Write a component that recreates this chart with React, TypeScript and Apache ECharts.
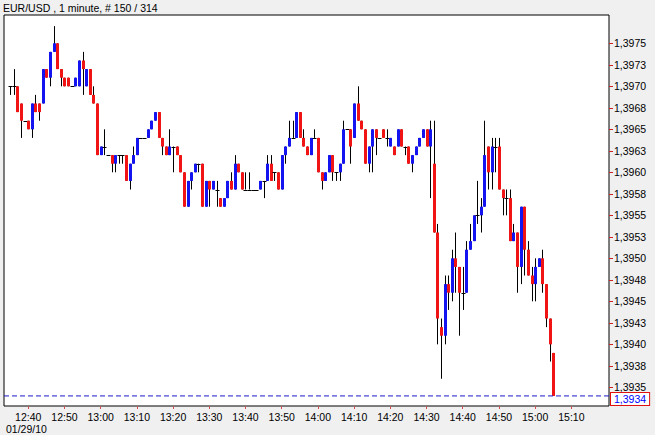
import React, { useEffect, useRef } from 'react';
import * as echarts from 'echarts';

const title = 'EUR/USD , 1 minute, # 150 / 314';
const dateLabel = '01/29/10';
const firstBarTime = '12:35';
const lastPrice = 1.3934;
const lastPriceLabel = '1,3934';

const open = [
  1.3970, 1.3970, 1.3970, 1.3968, 1.3966, 1.3966, 1.3965, 1.3968, 1.3968, 1.3968,
  1.3972, 1.3971, 1.3974, 1.3975, 1.3972, 1.3971, 1.3971, 1.3970, 1.3970, 1.3970,
  1.3973, 1.3970, 1.3972, 1.3969, 1.3968, 1.3962, 1.3963, 1.3962, 1.3962, 1.3961,
  1.3962, 1.3962, 1.3962, 1.3959, 1.3961, 1.3962, 1.3964, 1.3964, 1.3964, 1.3965,
  1.3966, 1.3967, 1.3964, 1.3963, 1.3962, 1.3963, 1.3963, 1.3962, 1.3960, 1.3956,
  1.3959, 1.3960, 1.3961, 1.3961, 1.3956, 1.3959, 1.3958, 1.3958, 1.3957, 1.3956,
  1.3957, 1.3959, 1.3958, 1.3961, 1.3960, 1.3958, 1.3958, 1.3958, 1.3958, 1.3958,
  1.3959, 1.3959, 1.3961, 1.3960, 1.3960, 1.3958, 1.3962, 1.3963, 1.3964, 1.3964,
  1.3967, 1.3964, 1.3963, 1.3962, 1.3964, 1.3964, 1.3960, 1.3959, 1.3960, 1.3962,
  1.3960, 1.3960, 1.3961, 1.3965, 1.3965, 1.3964, 1.3968, 1.3966, 1.3965, 1.3961,
  1.3963, 1.3965, 1.3964, 1.3965, 1.3964, 1.3963, 1.3963, 1.3963, 1.3965, 1.3963,
  1.3963, 1.3961, 1.3962, 1.3963, 1.3964, 1.3965, 1.3963, 1.3961, 1.3953, 1.3942,
  1.3941, 1.3947, 1.3946, 1.3950, 1.3949, 1.3946, 1.3946, 1.3951, 1.3952, 1.3955,
  1.3955, 1.3956, 1.3963, 1.3960, 1.3963, 1.3963, 1.3958, 1.3957, 1.3957, 1.3952,
  1.3953, 1.3949, 1.3956, 1.3951, 1.3948, 1.3947, 1.3949, 1.3950, 1.3947, 1.3943,
  1.3939,
];

const close = [
  1.3970, 1.3970, 1.3967, 1.3966, 1.3966, 1.3965, 1.3968, 1.3967, 1.3967, 1.3972,
  1.3971, 1.3974, 1.3975, 1.3972, 1.3971, 1.3970, 1.3970, 1.3970, 1.3971, 1.3973,
  1.3972, 1.3972, 1.3969, 1.3968, 1.3962, 1.3963, 1.3963, 1.3962, 1.3961, 1.3962,
  1.3962, 1.3962, 1.3959, 1.3961, 1.3962, 1.3964, 1.3964, 1.3964, 1.3965, 1.3966,
  1.3967, 1.3964, 1.3963, 1.3962, 1.3963, 1.3963, 1.3962, 1.3960, 1.3956, 1.3959,
  1.3960, 1.3961, 1.3961, 1.3956, 1.3959, 1.3958, 1.3959, 1.3958, 1.3956, 1.3957,
  1.3959, 1.3958, 1.3961, 1.3960, 1.3958, 1.3958, 1.3958, 1.3958, 1.3958, 1.3959,
  1.3959, 1.3961, 1.3959, 1.3960, 1.3958, 1.3962, 1.3963, 1.3964, 1.3964, 1.3967,
  1.3964, 1.3963, 1.3962, 1.3964, 1.3964, 1.3960, 1.3959, 1.3960, 1.3962, 1.3960,
  1.3960, 1.3961, 1.3965, 1.3965, 1.3963, 1.3968, 1.3966, 1.3965, 1.3961, 1.3963,
  1.3965, 1.3964, 1.3964, 1.3964, 1.3964, 1.3964, 1.3962, 1.3965, 1.3963, 1.3963,
  1.3961, 1.3962, 1.3963, 1.3964, 1.3965, 1.3963, 1.3965, 1.3953, 1.3943, 1.3941,
  1.3947, 1.3946, 1.3950, 1.3949, 1.3946, 1.3946, 1.3951, 1.3952, 1.3955, 1.3955,
  1.3956, 1.3962, 1.3960, 1.3963, 1.3963, 1.3958, 1.3957, 1.3957, 1.3952, 1.3953,
  1.3949, 1.3956, 1.3951, 1.3948, 1.3947, 1.3949, 1.3950, 1.3947, 1.3943, 1.3940,
  1.3934,
];

const low = [
  1.3969, 1.3969, 1.3967, 1.3964, 1.3966, 1.3965, 1.3964, 1.3967, 1.3966, 1.3968,
  1.3971, 1.3970, 1.3974, 1.3972, 1.3970, 1.3970, 1.3970, 1.3970, 1.3970, 1.3970,
  1.3969, 1.3970, 1.3969, 1.3968, 1.3962, 1.3962, 1.3962, 1.3962, 1.3960, 1.3960,
  1.3961, 1.3961, 1.3959, 1.3958, 1.3961, 1.3962, 1.3964, 1.3964, 1.3964, 1.3965,
  1.3966, 1.3964, 1.3962, 1.3962, 1.3962, 1.3960, 1.3962, 1.3960, 1.3956, 1.3956,
  1.3958, 1.3960, 1.3960, 1.3956, 1.3956, 1.3956, 1.3958, 1.3956, 1.3956, 1.3956,
  1.3957, 1.3958, 1.3958, 1.3960, 1.3958, 1.3958, 1.3958, 1.3958, 1.3958, 1.3958,
  1.3957, 1.3959, 1.3959, 1.3959, 1.3958, 1.3958, 1.3961, 1.3963, 1.3964, 1.3964,
  1.3964, 1.3963, 1.3962, 1.3962, 1.3964, 1.3960, 1.3958, 1.3959, 1.3960, 1.3959,
  1.3959, 1.3959, 1.3961, 1.3965, 1.3961, 1.3964, 1.3966, 1.3965, 1.3961, 1.3960,
  1.3960, 1.3962, 1.3964, 1.3964, 1.3963, 1.3963, 1.3962, 1.3963, 1.3963, 1.3962,
  1.3961, 1.3960, 1.3962, 1.3963, 1.3964, 1.3963, 1.3957, 1.3953, 1.3940, 1.3936,
  1.3940, 1.3944, 1.3945, 1.3946, 1.3941, 1.3944, 1.3946, 1.3951, 1.3952, 1.3954,
  1.3953, 1.3956, 1.3958, 1.3958, 1.3960, 1.3958, 1.3955, 1.3955, 1.3952, 1.3952,
  1.3946, 1.3947, 1.3948, 1.3948, 1.3945, 1.3945, 1.3949, 1.3946, 1.3942, 1.3938,
  1.3934,
];

const high = [
  1.3970, 1.3972, 1.3970, 1.3968, 1.3966, 1.3966, 1.3968, 1.3969, 1.3968, 1.3972,
  1.3972, 1.3974, 1.3977, 1.3975, 1.3972, 1.3971, 1.3971, 1.3970, 1.3971, 1.3973,
  1.3974, 1.3972, 1.3972, 1.3970, 1.3968, 1.3963, 1.3965, 1.3962, 1.3962, 1.3962,
  1.3962, 1.3962, 1.3962, 1.3961, 1.3963, 1.3964, 1.3964, 1.3964, 1.3965, 1.3966,
  1.3967, 1.3967, 1.3964, 1.3963, 1.3965, 1.3963, 1.3963, 1.3962, 1.3960, 1.3959,
  1.3960, 1.3961, 1.3961, 1.3961, 1.3959, 1.3959, 1.3959, 1.3959, 1.3957, 1.3957,
  1.3959, 1.3960, 1.3962, 1.3961, 1.3960, 1.3960, 1.3960, 1.3958, 1.3958, 1.3959,
  1.3959, 1.3962, 1.3962, 1.3960, 1.3960, 1.3962, 1.3963, 1.3966, 1.3966, 1.3967,
  1.3967, 1.3965, 1.3963, 1.3964, 1.3965, 1.3964, 1.3960, 1.3960, 1.3962, 1.3962,
  1.3960, 1.3961, 1.3966, 1.3965, 1.3965, 1.3968, 1.3970, 1.3966, 1.3965, 1.3963,
  1.3965, 1.3965, 1.3964, 1.3965, 1.3965, 1.3964, 1.3963, 1.3965, 1.3965, 1.3963,
  1.3963, 1.3962, 1.3963, 1.3964, 1.3965, 1.3965, 1.3966, 1.3966, 1.3954, 1.3943,
  1.3948, 1.3948, 1.3951, 1.3953, 1.3949, 1.3949, 1.3952, 1.3954, 1.3955, 1.3959,
  1.3957, 1.3966, 1.3963, 1.3964, 1.3964, 1.3964, 1.3958, 1.3958, 1.3958, 1.3954,
  1.3953, 1.3956, 1.3956, 1.3952, 1.3949, 1.3950, 1.3950, 1.3951, 1.3947, 1.3943,
  1.3939,
];

const xTickLabels = [
  '12:40', '12:50', '13:00', '13:10', '13:20', '13:30', '13:40', '13:50',
  '14:00', '14:10', '14:20', '14:30', '14:40', '14:50', '15:00', '15:10',
];

const yTickValues = [
  1.3935, 1.39375, 1.394, 1.39425, 1.3945, 1.39475, 1.395, 1.39525, 1.3955,
  1.39575, 1.396, 1.39625, 1.3965, 1.39675, 1.397, 1.39725, 1.3975,
];
const yTickLabels = [
  '1,3935', '1,3938', '1,3940', '1,3943', '1,3945', '1,3948', '1,3950', '1,3953', '1,3955',
  '1,3958', '1,3960', '1,3963', '1,3965', '1,3968', '1,3970', '1,3973', '1,3975',
];

const X_MIN = 33.3;
const X_MAX = 200.4;
const Y_MIN = 1.393283;
const Y_MAX = 1.397829;

const RED = '#f01414';
const BLUE = '#1414f0';
const FONT = 'Liberation Sans, Arial, sans-serif';

// minutes after 12:00
const toMinutes = (s: string) => {
  const [h, m] = s.split(':').map(Number);
  return (h - 12) * 60 + m;
};

export default function App() {
  const ref = useRef<HTMLDivElement>(null);

  useEffect(() => {
    document.body.style.margin = '0';
    if (!ref.current) return;
    const chart = echarts.init(ref.current, undefined, { renderer: 'svg' });

    const start = toMinutes(firstBarTime);
    const rows = open.map((o, i) => [start + i, o, close[i], low[i], high[i]]);
    const xTickValues = xTickLabels.map(toMinutes);

    const option: any = {
      animation: false,
      backgroundColor: '#f0f0f0',
      grid: {
        left: 4,
        right: 46,
        top: 15,
        bottom: 29,
        show: true,
        backgroundColor: '#ffffff',
        borderColor: '#000000',
        borderWidth: 1,
      },
      xAxis: {
        type: 'value',
        min: X_MIN,
        max: X_MAX,
        axisLine: { show: false },
        splitLine: { show: false },
        axisTick: {
          show: true,
          customValues: xTickValues,
          length: 3,
          lineStyle: { color: '#d05050', width: 1 },
        },
        axisLabel: {
          customValues: xTickValues,
          color: '#000',
          fontSize: 10.5,
          fontFamily: FONT,
          margin: 5,
          formatter: (v: number) => {
            const idx = xTickValues.findIndex((t) => Math.abs(t - v) < 1e-6);
            return idx >= 0 ? xTickLabels[idx] : '';
          },
        },
      },
      yAxis: {
        type: 'value',
        position: 'right',
        min: Y_MIN,
        max: Y_MAX,
        scale: true,
        axisLine: { show: false },
        splitLine: { show: false },
        axisTick: {
          show: true,
          customValues: yTickValues,
          length: 4,
          lineStyle: { color: '#d02020', width: 1 },
        },
        axisLabel: {
          customValues: yTickValues,
          color: '#000',
          fontSize: 10.5,
          lineHeight: 10,
          fontFamily: FONT,
          margin: 5,
          formatter: (v: number) => {
            const idx = yTickValues.findIndex((t) => Math.abs(t - v) < 1e-7);
            return idx >= 0 ? yTickLabels[idx] : '';
          },
        },
      },
      graphic: [
        {
          type: 'text',
          left: 3,
          top: 2,
          style: { text: title, fill: '#000', font: `10.5px ${FONT}` },
        },
        {
          type: 'text',
          left: 6,
          top: 423,
          style: { text: dateLabel, fill: '#000', font: `10.5px ${FONT}` },
        },
      ],
      series: [
        {
          type: 'custom',
          dimensions: ['time', 'open', 'close', 'low', 'high'],
          encode: { x: 0, y: [1, 2, 3, 4] },
          data: rows,
          clip: true,
          z: 3,
          renderItem: (params: any, api: any) => {
            const t = api.value(0);
            const o = api.value(1);
            const c = api.value(2);
            const l = api.value(3);
            const h = api.value(4);
            const pO = api.coord([t, o]);
            const yC = api.coord([t, c])[1];
            const yL = api.coord([t, l])[1];
            const yH = api.coord([t, h])[1];
            const cx = Math.round(pO[0]);
            const children: any[] = [];
            if (h !== l) {
              children.push({
                type: 'line',
                shape: { x1: cx + 0.5, y1: yH, x2: cx + 0.5, y2: yL },
                style: { stroke: '#000', lineWidth: 1 },
              });
            }
            if (o === c) {
              const yy = Math.round(pO[1]) + 0.5;
              children.push({
                type: 'line',
                shape: { x1: cx - 1.5, y1: yy, x2: cx + 2.5, y2: yy },
                style: { stroke: '#000', lineWidth: 1 },
              });
            } else {
              const top = Math.min(pO[1], yC);
              const bot = Math.max(pO[1], yC);
              children.push({
                type: 'rect',
                shape: { x: cx - 1, y: top, width: 3, height: bot - top },
                style: { fill: c > o ? BLUE : RED },
              });
            }
            return { type: 'group', children };
          },
        },
        {
          type: 'line',
          data: [
            [X_MIN, lastPrice],
            [X_MAX, lastPrice],
          ],
          showSymbol: false,
          symbol: 'none',
          silent: true,
          z: 4,
          lineStyle: { color: '#1a1ac8', type: [5, 3], width: 1 },
          endLabel: {
            show: true,
            distance: 2,
            offset: [0, 3],
            formatter: lastPriceLabel,
            color: '#0000ff',
            fontSize: 10.5,
            lineHeight: 11,
            fontFamily: FONT,
            backgroundColor: '#ffffff',
            borderColor: '#e01010',
            borderWidth: 1,
            padding: [1, 3, 0, 3],
          },
        },
      ],
    };

    chart.setOption(option);
    return () => chart.dispose();
  }, []);

  return <div ref={ref} style={{ width: 655, height: 435, background: '#f0f0f0' }} />;
}
